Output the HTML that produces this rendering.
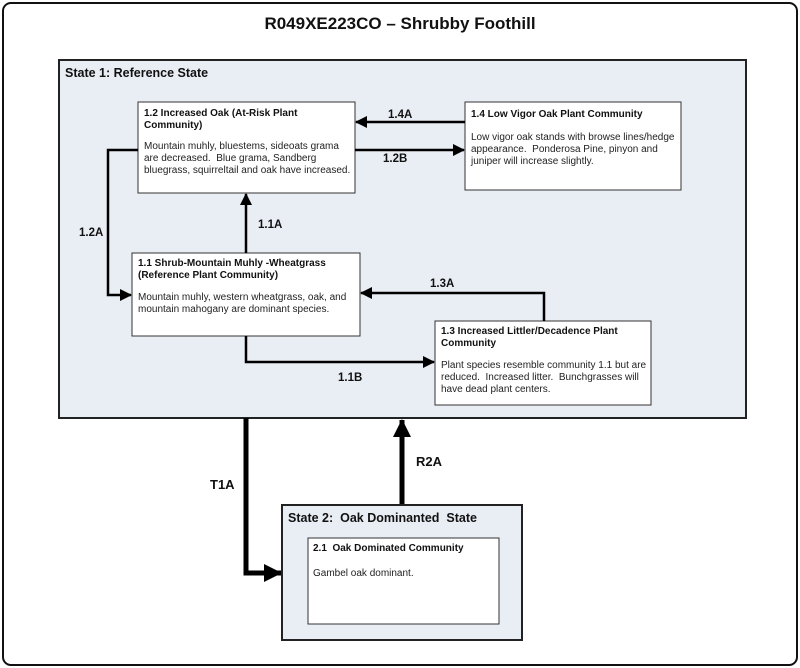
<!DOCTYPE html>
<html><head><meta charset="utf-8"><style>
html,body{margin:0;padding:0;background:#fff}
svg{display:block}
text{font-family:"Liberation Sans",Arial,sans-serif;fill:#222;white-space:pre}
.t{font-size:10px;font-weight:bold;fill:#111}
.b{font-size:10px}
.l{font-size:11.5px;font-weight:bold;fill:#111}
</style></head><body>
<svg width="800" height="668" viewBox="0 0 800 668" xmlns="http://www.w3.org/2000/svg" xml:space="preserve">
<defs>
<marker id="a" markerWidth="12" markerHeight="12" refX="11" refY="6" orient="auto" markerUnits="userSpaceOnUse"><path d="M0,0 L12,6 L0,12 z" fill="#000"/></marker>
<marker id="A" markerWidth="18" markerHeight="18" refX="17" refY="9" orient="auto" markerUnits="userSpaceOnUse"><path d="M0,0 L18,9 L0,18 z" fill="#000"/></marker>
</defs>
<rect x="3" y="3" width="794" height="662" rx="8" fill="#fff" stroke="#111" stroke-width="2"/>
<text x="400" y="29" text-anchor="middle" style="font-size:17px;font-weight:bold;fill:#111">R049XE223CO – Shrubby Foothill</text>

<rect x="59" y="60" width="687" height="358" fill="#e9edf4" stroke="#222" stroke-width="2"/>
<text x="65" y="77" style="font-size:12.5px;font-weight:bold;fill:#111">State 1: Reference State</text>

<rect x="138" y="102" width="217" height="91" fill="#fff" stroke="#333" stroke-width="1"/>
<text class="t" x="144" y="116">1.2 Increased Oak (At-Risk Plant</text>
<text class="t" x="144" y="128">Community)</text>
<text class="b" x="144" y="149">Mountain muhly, bluestems, sideoats grama</text>
<text class="b" x="144" y="161">are decreased.  Blue grama, Sandberg</text>
<text class="b" x="144" y="173">bluegrass, squirreltail and oak have increased.</text>

<rect x="465" y="102" width="216" height="88" fill="#fff" stroke="#333" stroke-width="1"/>
<text class="t" x="471" y="117">1.4 Low Vigor Oak Plant Community</text>
<text class="b" x="471" y="140">Low vigor oak stands with browse lines/hedge</text>
<text class="b" x="471" y="152">appearance.  Ponderosa Pine, pinyon and</text>
<text class="b" x="471" y="164">juniper will increase slightly.</text>

<rect x="132" y="253" width="228" height="83" fill="#fff" stroke="#333" stroke-width="1"/>
<text class="t" x="138" y="266">1.1 Shrub-Mountain Muhly -Wheatgrass</text>
<text class="t" x="138" y="278">(Reference Plant Community)</text>
<text class="b" x="138" y="300">Mountain muhly, western wheatgrass, oak, and</text>
<text class="b" x="138" y="312">mountain mahogany are dominant species.</text>

<rect x="435" y="321" width="216" height="84" fill="#fff" stroke="#333" stroke-width="1"/>
<text class="t" x="441" y="334">1.3 Increased Littler/Decadence Plant</text>
<text class="t" x="441" y="346">Community</text>
<text class="b" x="441" y="368">Plant species resemble community 1.1 but are</text>
<text class="b" x="441" y="380">reduced.  Increased litter.  Bunchgrasses will</text>
<text class="b" x="441" y="392">have dead plant centers.</text>

<g stroke="#000" stroke-width="2.5" fill="none">
<path d="M465,122 H356" marker-end="url(#a)"/>
<path d="M355,150 H464" marker-end="url(#a)"/>
<path d="M138,150 H108 V295 H131" marker-end="url(#a)"/>
<path d="M246,253 V194" marker-end="url(#a)"/>
<path d="M544,321 V293 H361" marker-end="url(#a)"/>
<path d="M246,336 V362 H434" marker-end="url(#a)"/>
</g>
<text class="l" x="388" y="118">1.4A</text>
<text class="l" x="383" y="162">1.2B</text>
<text class="l" x="79" y="236">1.2A</text>
<text class="l" x="258" y="228">1.1A</text>
<text class="l" x="430" y="287">1.3A</text>
<text class="l" x="338" y="381">1.1B</text>

<g stroke="#000" stroke-width="5" fill="none">
<path d="M246,418 V573 H281" marker-end="url(#A)"/>
<path d="M402,505 V420" marker-end="url(#A)"/>
</g>
<text x="210" y="489" style="font-size:13px;font-weight:bold;fill:#111">T1A</text>
<text x="416" y="466" style="font-size:13px;font-weight:bold;fill:#111">R2A</text>

<rect x="282" y="505" width="240" height="135" fill="#e9edf4" stroke="#222" stroke-width="2"/>
<text x="288" y="522" style="font-size:12.5px;font-weight:bold;fill:#111">State 2:  Oak Dominanted  State</text>
<rect x="308" y="538" width="191" height="86" fill="#fff" stroke="#333" stroke-width="1"/>
<text class="t" x="313" y="551">2.1  Oak Dominated Community</text>
<text class="b" x="313" y="576">Gambel oak dominant.</text>
</svg>
</body></html>
